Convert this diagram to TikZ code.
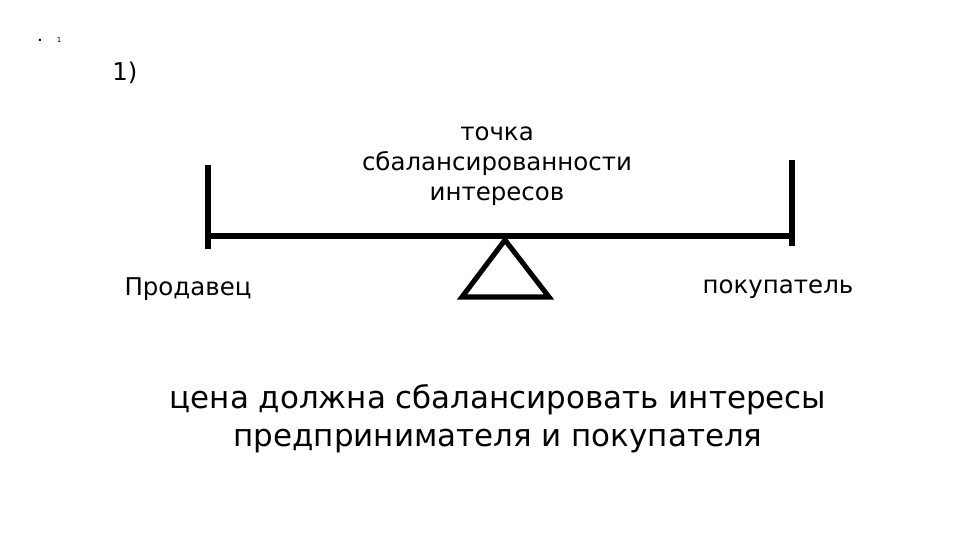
\documentclass[tikz,border=0pt]{standalone}
\usepackage{fontspec}
\setmainfont{DejaVu Sans}
\begin{document}
\begin{tikzpicture}[x=0.025cm,y=-0.025cm,
 lbl/.style={inner sep=0pt,font=\fontsize{17.4}{21.5}\selectfont},
 big/.style={inner sep=0pt,align=center,font=\fontsize{22}{27}\selectfont},
 bar/.style={line width=4.2pt}]
\useasboundingbox (0,0) rectangle (960,540);
\node[inner sep=0pt,font=\fontsize{3}{3}\selectfont] (dot) at (40,40) {▪};
\node[inner sep=0pt,font=\fontsize{5}{5}\selectfont] (one) at (59,40) {1};
\node[lbl,anchor=west] (num) at (112,73) {1)};
\node[lbl,align=center] (pt) at (497,166) {точка\\сбалансированности\\интересов};
\coordinate (bl) at (208,236); \coordinate (br) at (792,236);
\coordinate (lt) at (208,165); \coordinate (lb) at (208,249);
\coordinate (rt) at (792,160); \coordinate (rb) at (792,246);
\draw[bar] (lt) -- (lb);
\draw[bar] (rt) -- (rb);
\draw[bar] (bl) -- (br);
\coordinate (ta) at (505,240); \coordinate (tl) at (462,297); \coordinate (tr) at (549,297);
\draw[line width=3.6pt,line join=miter] (ta) -- (tl) -- (tr) -- cycle;
\node[lbl] (s) at (188,289) {Продавец};
\node[lbl] (b) at (778,289) {покупатель};
\node[big] (t) at (498,419) {цена должна сбалансировать интересы\\предпринимателя и покупателя};
\end{tikzpicture}
\end{document}
